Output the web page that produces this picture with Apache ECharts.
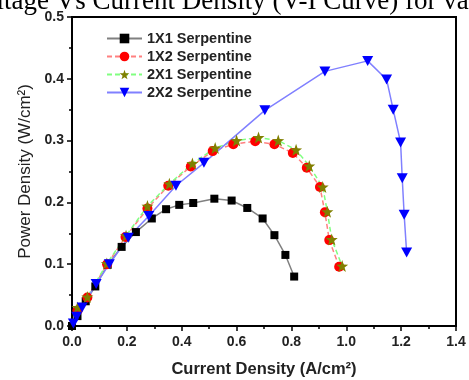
<!DOCTYPE html>
<html>
<head>
<meta charset="utf-8">
<script src="https://cdn.jsdelivr.net/npm/echarts@6/dist/echarts.min.js"></script>
<style>
  html, body { margin: 0; padding: 0; background: #fff; }
  #chart { width: 469px; height: 380px; }
</style>
</head>
<body>
<div id="chart"></div>
<script>
// values
const seriesNames = ["1X1 Serpentine", "1X2 Serpentine", "2X1 Serpentine", "2X2 Serpentine"];

const current1x1 = [0, 0.02, 0.05, 0.085, 0.13, 0.181, 0.233, 0.291, 0.343, 0.391, 0.442, 0.519, 0.582, 0.639, 0.695, 0.738, 0.778, 0.810];
const power1x1   = [0, 0.016, 0.04, 0.064, 0.099, 0.128, 0.152, 0.174, 0.189, 0.196, 0.199, 0.206, 0.203, 0.191, 0.174, 0.147, 0.115, 0.080];

const current1x2 = [0.02, 0.056, 0.128, 0.195, 0.275, 0.351, 0.433, 0.513, 0.588, 0.668, 0.738, 0.805, 0.856, 0.904, 0.922, 0.938, 0.974];
const power1x2   = [0.025, 0.046, 0.100, 0.144, 0.190, 0.227, 0.258, 0.283, 0.294, 0.299, 0.294, 0.280, 0.256, 0.225, 0.184, 0.139, 0.096];

const current2x1 = [0.02, 0.056, 0.127, 0.197, 0.275, 0.355, 0.439, 0.522, 0.600, 0.680, 0.752, 0.817, 0.865, 0.914, 0.931, 0.947, 0.985];
const power2x1   = [0.030, 0.047, 0.101, 0.146, 0.194, 0.230, 0.263, 0.288, 0.300, 0.305, 0.300, 0.285, 0.259, 0.225, 0.185, 0.140, 0.097];

const current2x2 = [0.005, 0.017, 0.037, 0.088, 0.136, 0.205, 0.280, 0.379, 0.481, 0.703, 0.922, 1.078, 1.147, 1.171, 1.198, 1.204, 1.211, 1.220];
const power2x2   = [0.004, 0.015, 0.030, 0.068, 0.100, 0.143, 0.178, 0.227, 0.264, 0.349, 0.412, 0.429, 0.399, 0.350, 0.297, 0.239, 0.180, 0.119];

const zip = (xs, ys) => xs.map((x, i) => [x, ys[i]]);

const starPath = 'path://M0,-10 L2.35,-3.24 L9.51,-3.09 L3.8,1.24 L5.88,8.09 L0,4 L-5.88,8.09 L-3.8,1.24 L-9.51,-3.09 L-2.35,-3.24 Z';

const chart = echarts.init(document.getElementById('chart'));

const axisFont = { fontFamily: 'Liberation Sans', fontWeight: 'bold', fontSize: 14, color: '#222' };

chart.setOption({
  animation: false,
  graphic: [{
    type: 'text',
    left: -33,
    top: -12,
    style: {
      text: 'Voltage Vs Current Density (V-I Curve) for various Flow Fields',
      font: '27px "Liberation Serif"',
      fill: '#000'
    }
  }],
  grid: {
    left: 72, right: 13, top: 17, bottom: 54,
    outerBoundsMode: 'none',
    show: true, borderColor: '#000', borderWidth: 2
  },
  legend: {
    left: 106, top: 31, padding: 0,
    orient: 'vertical',
    itemWidth: 35, itemHeight: 12, itemGap: 3,
    data: seriesNames,
    textStyle: { fontFamily: 'Liberation Sans', fontWeight: 'bold', fontSize: 14.5, color: '#222' }
  },
  xAxis: {
    type: 'value', min: 0, max: 1.4, interval: 0.2,
    name: 'Current Density (A/cm²)', nameLocation: 'middle', nameGap: 35,
    nameTextStyle: { fontFamily: 'Liberation Sans', fontWeight: 'bold', fontSize: 16.5, color: '#222' },
    axisLine: { lineStyle: { color: '#000', width: 2 } },
    axisTick: { inside: false, length: 5, lineStyle: { color: '#000', width: 1.5 } },
    minorTick: { show: true, splitNumber: 2, length: 3, lineStyle: { color: '#000', width: 1.5 } },
    axisLabel: Object.assign({ margin: 9, formatter: v => v.toFixed(1) }, axisFont),
    splitLine: { show: false }
  },
  yAxis: {
    type: 'value', min: 0, max: 0.5, interval: 0.1,
    name: 'Power Density (W/cm²)', nameLocation: 'middle', nameGap: 37,
    nameTextStyle: { fontFamily: 'Liberation Sans', fontSize: 17, color: '#222' },
    axisLine: { show: true, lineStyle: { color: '#000', width: 2 } },
    axisTick: { show: true, inside: false, length: 5, lineStyle: { color: '#000', width: 1.5 } },
    minorTick: { show: true, splitNumber: 2, length: 3, lineStyle: { color: '#000', width: 1.5 } },
    axisLabel: Object.assign({ margin: 8, formatter: v => v.toFixed(1) }, axisFont),
    splitLine: { show: false }
  },
  series: [
    {
      name: seriesNames[0], type: 'line', data: zip(current1x1, power1x1),
      symbol: 'rect', symbolSize: 8,
      itemStyle: { color: '#000' },
      lineStyle: { color: '#808080', width: 1.5 }
    },
    {
      name: seriesNames[1], type: 'line', data: zip(current1x2, power1x2),
      symbol: 'circle', symbolSize: 10,
      itemStyle: { color: '#ff0000' },
      lineStyle: { color: '#ff8080', width: 1.5, type: [5, 3] }
    },
    {
      name: seriesNames[2], type: 'line', data: zip(current2x1, power2x1),
      symbol: starPath, symbolSize: 12,
      itemStyle: { color: '#808000' },
      lineStyle: { color: '#80ff80', width: 1.5, type: [5, 3] }
    },
    {
      name: seriesNames[3], type: 'line', data: zip(current2x2, power2x2),
      symbol: 'triangle', symbolRotate: 180, symbolSize: [11, 10],
      itemStyle: { color: '#0000ff' },
      lineStyle: { color: '#8080ff', width: 1.5 }
    }
  ]
});
</script>
</body>
</html>
